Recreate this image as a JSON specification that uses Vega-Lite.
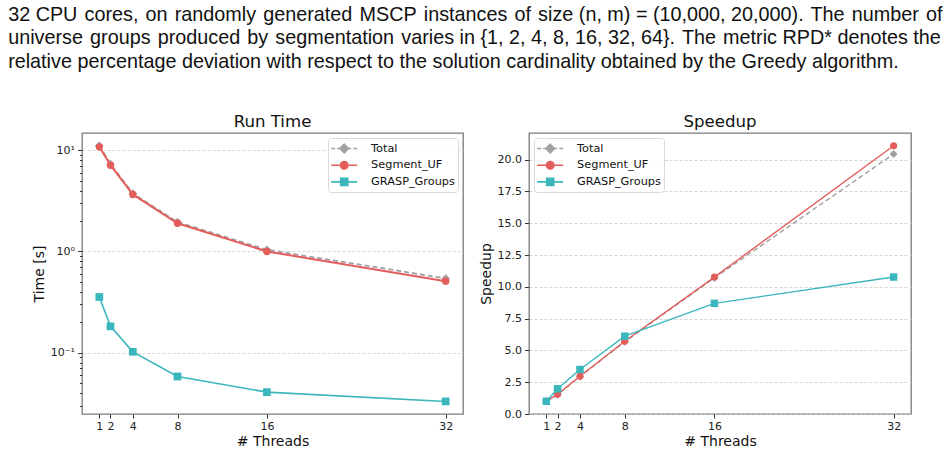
{
  "$schema": "https://vega.github.io/schema/vega-lite/v6.json",
  "padding": {"left": 8, "top": 4, "right": 5, "bottom": 4},
  "background": "white",
  "title": {
    "text": [
      "32 CPU\u200a cores,\u200a on\u200a randomly\u200a generated\u200a MSCP\u200a instances\u200a of\u200a size (n, m) = (10,000, 20,000).\u200a The\u200a number\u200a of",
      "universe\u200a groups\u200a produced\u200a by\u200a segmentation\u200a varies in {1, 2, 4, 8, 16, 32, 64}.\u200a The\u200a metric RPD* denotes the",
      "relative percentage deviation with respect to the solution cardinality obtained by the Greedy algorithm."
    ],
    "anchor": "start",
    "frame": "bounds",
    "dx": -23.5,
    "font": "Liberation Sans",
    "fontSize": 19.8,
    "fontWeight": "normal",
    "lineHeight": 23.7,
    "color": "#111111",
    "offset": 42
  },
  "datasets": {
    "runs": [
      {"threads": 1, "series": "Total", "time": 11.1, "speedup": 1.0},
      {"threads": 2, "series": "Total", "time": 7.33, "speedup": 1.52},
      {"threads": 4, "series": "Total", "time": 3.74, "speedup": 2.95},
      {"threads": 8, "series": "Total", "time": 1.95, "speedup": 5.68},
      {"threads": 16, "series": "Total", "time": 1.04, "speedup": 10.7},
      {"threads": 32, "series": "Total", "time": 0.542, "speedup": 20.45},
      {"threads": 1, "series": "Segment_UF", "time": 10.8, "speedup": 1.0},
      {"threads": 2, "series": "Segment_UF", "time": 7.11, "speedup": 1.55},
      {"threads": 4, "series": "Segment_UF", "time": 3.66, "speedup": 2.97},
      {"threads": 8, "series": "Segment_UF", "time": 1.9, "speedup": 5.72},
      {"threads": 16, "series": "Segment_UF", "time": 1.0, "speedup": 10.77},
      {"threads": 32, "series": "Segment_UF", "time": 0.509, "speedup": 21.1},
      {"threads": 1, "series": "GRASP_Groups", "time": 0.355, "speedup": 1.0},
      {"threads": 2, "series": "GRASP_Groups", "time": 0.182, "speedup": 1.98},
      {"threads": 4, "series": "GRASP_Groups", "time": 0.102, "speedup": 3.5},
      {"threads": 8, "series": "GRASP_Groups", "time": 0.0582, "speedup": 6.12},
      {"threads": 16, "series": "GRASP_Groups", "time": 0.0408, "speedup": 8.7},
      {"threads": 32, "series": "GRASP_Groups", "time": 0.033, "speedup": 10.77}
    ]
  },
  "spacing": 14,
  "resolve": {"scale": {"color": "independent", "shape": "independent"}},
  "hconcat": [
    {
      "width": 381,
      "height": 281,
      "title": "Run Time",
      "data": {"name": "runs"},
      "encoding": {
        "x": {
          "field": "threads",
          "type": "quantitative",
          "scale": {"domain": [-0.55, 33.55], "nice": false, "zero": false},
          "axis": {"values": [1, 2, 4, 8, 16, 32], "title": "# Threads", "grid": false, "tickSize": 4, "labelPadding": 2.5, "titlePadding": 2.5}
        },
        "y": {
          "field": "time",
          "type": "quantitative",
          "scale": {"type": "log", "domain": [0.0248, 14.8], "nice": false},
          "axis": {
            "title": "Time [s]",
            "values": [0.03, 0.04, 0.05, 0.06, 0.07, 0.08, 0.09, 0.1, 0.2, 0.3, 0.4, 0.5, 0.6, 0.7, 0.8, 0.9, 1, 2, 3, 4, 5, 6, 7, 8, 9, 10],
            "labelExpr": "datum.value == 10 ? '10¹' : datum.value == 1 ? '10⁰' : datum.value == 0.1 ? '10⁻¹' : ''",
            "labelOverlap": false,
            "grid": true,
            "gridOpacity": {"condition": {"test": "datum.value == 10 || datum.value == 1 || datum.value == 0.1", "value": 1}, "value": 0},
            "tickSize": {"condition": {"test": "datum.value == 10 || datum.value == 1 || datum.value == 0.1", "value": 4.5}, "value": 2.5},
            "labelPadding": 3,
            "titlePadding": 4
          }
        }
      },
      "layer": [
        {
          "transform": [{"filter": "datum.series === 'Total'"}],
          "mark": {"type": "line", "color": "#a0a0a0", "strokeWidth": 1.8, "strokeDash": [5, 3],
                   "point": {"shape": "diamond", "size": 72, "filled": true, "color": "#a0a0a0", "opacity": 1}}
        },
        {
          "transform": [{"filter": "datum.series === 'Segment_UF'"}],
          "mark": {"type": "line", "color": "#e35d5b", "strokeWidth": 2,
                   "point": {"shape": "circle", "size": 55, "filled": true, "color": "#e35d5b", "opacity": 1}}
        },
        {
          "transform": [{"filter": "datum.series === 'GRASP_Groups'"}],
          "mark": {"type": "line", "color": "#3bb6bd", "strokeWidth": 1.6,
                   "point": {"shape": "square", "size": 60, "filled": true, "color": "#3bb6bd", "opacity": 1}}
        },
        {
          "mark": {"type": "point", "opacity": 0, "filled": true},
          "encoding": {
            "color": {
              "field": "series", "type": "nominal",
              "scale": {"domain": ["Total", "Segment_UF", "GRASP_Groups"], "range": ["#a0a0a0", "#e35d5b", "#3bb6bd"]},
              "legend": {
                "title": null, "orient": "top-right", "offset": 5, "padding": 3, "rowPadding": 1.7,
                "fillColor": "rgba(255,255,255,0.85)", "strokeColor": "#dadada", "cornerRadius": 3,
                "symbolSize": 169, "symbolStrokeWidth": 1.6, "symbolOpacity": 1, "symbolOffset": 5.7, "labelOffset": 19.4,
                "labelFont": "DejaVu Sans", "labelFontSize": 11.3, "labelColor": "#111111",
                "encode": {"symbols": {"update": {"opacity": {"value": 1}, "stroke": {"signal": "datum.value === 'Total' ? '#a0a0a0' : datum.value === 'Segment_UF' ? '#e35d5b' : '#3bb6bd'"}}}}
              }
            },
            "shape": {
              "field": "series", "type": "nominal",
              "scale": {"domain": ["Total", "Segment_UF", "GRASP_Groups"], "range": [
                "M-2,0H-1.4M-1.08,0H-0.66M0.66,0H1.08M1.4,0H2M0,-0.66L0.66,0L0,0.66L-0.66,0Z",
                "M-2,0H2M0.58,0A0.58 0.58 0 1 1 -0.58,0A0.58 0.58 0 1 1 0.58,0Z",
                "M-2,0H2M-0.54,-0.54H0.54V0.54H-0.54Z"
              ]},
              "legend": {"title": null, "orient": "top-right"}
            }
          }
        }
      ]
    },
    {
      "width": 382,
      "height": 281,
      "title": "Speedup",
      "data": {"name": "runs"},
      "encoding": {
        "x": {
          "field": "threads",
          "type": "quantitative",
          "scale": {"domain": [-0.55, 33.55], "nice": false, "zero": false},
          "axis": {"values": [1, 2, 4, 8, 16, 32], "title": "# Threads", "grid": false, "tickSize": 4, "labelPadding": 2.5, "titlePadding": 2.5}
        },
        "y": {
          "field": "speedup",
          "type": "quantitative",
          "scale": {"domain": [0, 22.1], "nice": false, "zero": false},
          "axis": {
            "title": "Speedup",
            "values": [0, 2.5, 5, 7.5, 10, 12.5, 15, 17.5, 20],
            "format": ".1f",
            "grid": true,
            "tickSize": 4.5,
            "labelPadding": 3,
            "titlePadding": 3.5
          }
        }
      },
      "layer": [
        {
          "transform": [{"filter": "datum.series === 'Total'"}],
          "mark": {"type": "line", "color": "#a0a0a0", "strokeWidth": 1.4, "strokeDash": [5, 3],
                   "point": {"shape": "diamond", "size": 64, "filled": true, "color": "#a0a0a0", "opacity": 1}}
        },
        {
          "transform": [{"filter": "datum.series === 'Segment_UF'"}],
          "mark": {"type": "line", "color": "#e35d5b", "strokeWidth": 1.4,
                   "point": {"shape": "circle", "size": 50, "filled": true, "color": "#e35d5b", "opacity": 1}}
        },
        {
          "transform": [{"filter": "datum.series === 'GRASP_Groups'"}],
          "mark": {"type": "line", "color": "#3bb6bd", "strokeWidth": 1.4,
                   "point": {"shape": "square", "size": 56, "filled": true, "color": "#3bb6bd", "opacity": 1}}
        },
        {
          "mark": {"type": "point", "opacity": 0, "filled": true},
          "encoding": {
            "color": {
              "field": "series", "type": "nominal",
              "scale": {"domain": ["Total", "Segment_UF", "GRASP_Groups"], "range": ["#a0a0a0", "#e35d5b", "#3bb6bd"]},
              "legend": {
                "title": null, "orient": "top-left", "offset": 5, "padding": 3, "rowPadding": 1.7,
                "fillColor": "rgba(255,255,255,0.85)", "strokeColor": "#dadada", "cornerRadius": 3,
                "symbolSize": 169, "symbolStrokeWidth": 1.6, "symbolOpacity": 1, "symbolOffset": 5.7, "labelOffset": 19.4,
                "labelFont": "DejaVu Sans", "labelFontSize": 11.3, "labelColor": "#111111",
                "encode": {"symbols": {"update": {"opacity": {"value": 1}, "stroke": {"signal": "datum.value === 'Total' ? '#a0a0a0' : datum.value === 'Segment_UF' ? '#e35d5b' : '#3bb6bd'"}}}}
              }
            },
            "shape": {
              "field": "series", "type": "nominal",
              "scale": {"domain": ["Total", "Segment_UF", "GRASP_Groups"], "range": [
                "M-2,0H-1.4M-1.08,0H-0.66M0.66,0H1.08M1.4,0H2M0,-0.66L0.66,0L0,0.66L-0.66,0Z",
                "M-2,0H2M0.58,0A0.58 0.58 0 1 1 -0.58,0A0.58 0.58 0 1 1 0.58,0Z",
                "M-2,0H2M-0.54,-0.54H0.54V0.54H-0.54Z"
              ]},
              "legend": {"title": null, "orient": "top-left"}
            }
          }
        }
      ]
    }
  ],
  "config": {
    "view": {"stroke": "#7a7a7a", "strokeWidth": 1.3},
    "axis": {
      "domain": false,
      "labelFont": "DejaVu Sans",
      "labelFontSize": 11,
      "labelColor": "#222222",
      "titleFont": "DejaVu Sans",
      "titleFontSize": 14,
      "titleFontWeight": "normal",
      "titleColor": "#111111",
      "tickColor": "#333333",
      "tickWidth": 1,
      "gridColor": "#cccccc",
      "gridDash": [3, 2],
      "gridWidth": 0.8
    },
    "title": {"font": "DejaVu Sans", "fontSize": 16.6, "fontWeight": "normal", "color": "#111111", "offset": 2}
  }
}
